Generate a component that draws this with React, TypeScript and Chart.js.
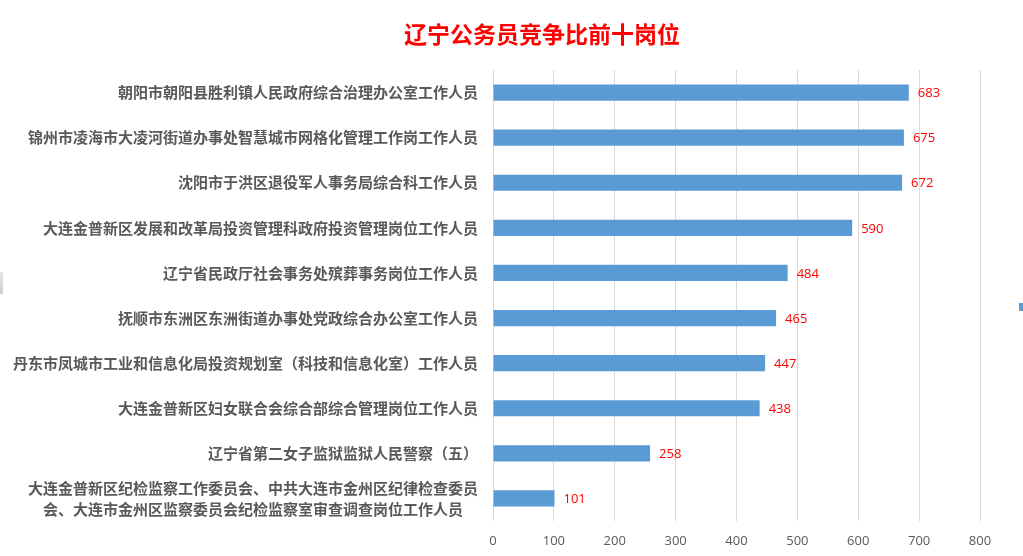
import React, { useEffect, useRef } from "react";
import { Chart, registerables } from "chart.js";

Chart.register(...registerables);

const title = "辽宁公务员竞争比前十岗位";
const categories: (string | string[])[] = [
  "朝阳市朝阳县胜利镇人民政府综合治理办公室工作人员",
  "锦州市凌海市大凌河街道办事处智慧城市网格化管理工作岗工作人员",
  "沈阳市于洪区退役军人事务局综合科工作人员",
  "大连金普新区发展和改革局投资管理科政府投资管理岗位工作人员",
  "辽宁省民政厅社会事务处殡葬事务岗位工作人员",
  "抚顺市东洲区东洲街道办事处党政综合办公室工作人员",
  "丹东市凤城市工业和信息化局投资规划室（科技和信息化室）工作人员",
  "大连金普新区妇女联合会综合部综合管理岗位工作人员",
  "辽宁省第二女子监狱监狱人民警察（五）",
  [
    "大连金普新区纪检监察工作委员会、中共大连市金州区纪律检查委员",
    "会、大连市金州区监察委员会纪检监察室审查调查岗位工作人员",
  ],
];
const values = [683, 675, 672, 590, 484, 465, 447, 438, 258, 101];
const xMin = 0;
const xMax = 800;
const xStep = 100;

const LABEL_FONT = "bold 15px 'Noto Sans CJK SC', sans-serif";
const LABEL_LINE = 21;

const customPlugin = {
  id: "customDraw",
  afterDraw(chart: any) {
    const ctx = chart.ctx;
    const xs = chart.scales.x;
    const ys = chart.scales.y;
    ctx.save();
    // title
    ctx.font = "bold 23px 'Noto Sans CJK SC', sans-serif";
    ctx.fillStyle = "#FF0000";
    ctx.textAlign = "center";
    ctx.textBaseline = "middle";
    ctx.fillText(title, 534, 26);
    // y labels
    ctx.font = LABEL_FONT;
    ctx.fillStyle = "#595959";
    const right = chart.chartArea.left - 15;
    categories.forEach((c, i) => {
      const lines = Array.isArray(c) ? c : [c];
      const y = ys.getPixelForTick(i);
      const maxW = Math.max(...lines.map((l) => ctx.measureText(l).width));
      const cx = right - maxW / 2;
      const top = y - ((lines.length - 1) * LABEL_LINE) / 2;
      lines.forEach((l, j) => {
        ctx.textAlign = "center";
        ctx.fillText(l, cx, top + j * LABEL_LINE);
      });
    });
    // data labels
    ctx.font = "13px 'Open Sans', 'Liberation Sans', sans-serif";
    ctx.fillStyle = "#FF0000";
    ctx.textAlign = "left";
    const meta = chart.getDatasetMeta(0);
    meta.data.forEach((bar: any, i: number) => {
      ctx.fillText(String(values[i]), xs.getPixelForValue(values[i]) + 9, bar.y + 1);
    });
    ctx.restore();
  },
};

export default function App() {
  const ref = useRef<HTMLCanvasElement>(null);
  useEffect(() => {
    if (!ref.current) return;
    const chart = new Chart(ref.current, {
      type: "bar",
      data: {
        labels: categories.map((c) => (Array.isArray(c) ? c.join("") : c)),
        datasets: [
          {
            data: values,
            backgroundColor: "#5B9BD5",
            borderWidth: 0,
            barPercentage: 0.36,
            categoryPercentage: 1,
          },
        ],
      },
      options: {
        indexAxis: "y",
        animation: false,
        responsive: false,
        maintainAspectRatio: false,
        layout: { padding: { top: 62, right: 35, left: 0, bottom: 0 } },
        plugins: {
          legend: { display: false },
          title: { display: false },
          tooltip: { enabled: false },
        },
        scales: {
          x: {
            min: xMin,
            max: xMax,
            ticks: {
              stepSize: xStep,
              color: "#595959",
              font: { size: 13, family: "'Open Sans', 'Liberation Sans', sans-serif" },
              padding: 12,
            },
            grid: { color: "#D9D9D9", lineWidth: 1, drawTicks: false },
            border: { display: false },
            afterFit: (s: any) => {
              s.height = 27;
            },
          },
          y: {
            ticks: { display: false },
            grid: { display: false },
            border: { display: false },
            afterFit: (s: any) => {
              s.width = 485;
            },
          },
        },
      },
      plugins: [customPlugin],
    });
    return () => chart.destroy();
  }, []);
  return (
    <div style={{ width: 1007, height: 540 }}>
      <canvas ref={ref} width={1007} height={540} style={{ width: 1007, height: 540 }} />
      <div
        style={{
          position: "fixed",
          left: 0,
          top: 272,
          width: 3,
          height: 22,
          background: "linear-gradient(#e6e6e6, #cfcfcf)",
        }}
      />
      <div
        style={{
          position: "fixed",
          left: 1019,
          top: 303,
          width: 4,
          height: 8,
          background: "#5B9BD5",
        }}
      />
    </div>
  );
}
